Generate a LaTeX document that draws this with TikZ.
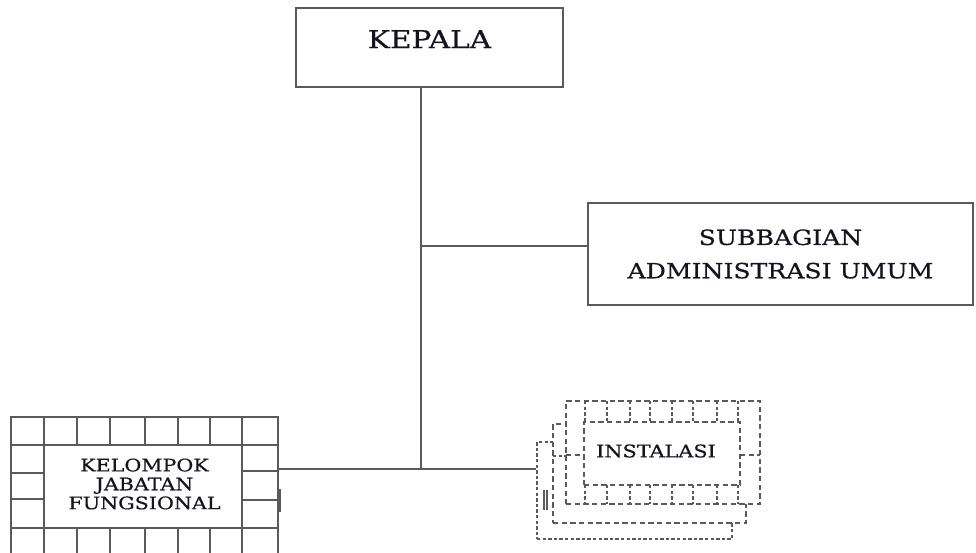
\documentclass[tikz,border=0pt]{standalone}
\usepackage{fontspec}
\setmainfont{DejaVu Serif}[FakeStretch=1.2, FakeBold=0.6]
\usetikzlibrary{positioning,calc}
\definecolor{orgline}{HTML}{5A5A5A}
\definecolor{orgink}{HTML}{141420}

\begin{document}
\begin{tikzpicture}[x=0.75pt, y=-0.75pt, text=orgink,
    unitbox/.style={draw=orgline, line width=1.1pt, fill=white, inner sep=0pt},
    link/.style={draw=orgline, line width=1.1pt},
    cell/.style={draw=orgline, line width=1pt},
    dcell/.style={draw=orgline, line width=1pt, dash pattern=on 4pt off 2.5pt},
    fcell/.style={draw=orgline, line width=1pt, dash pattern=on 2.6pt off 1.6pt}]
  \useasboundingbox (0,0) rectangle (976,553);
  \clip (0,0) rectangle (976,553);

  % pimpinan dan subbagian
  \node[unitbox, minimum width=200pt, text height=30pt, text depth=29pt, font=\fontsize{18.5}{20}\selectfont] (kepala) at (429.5,47.5) {KEPALA};
  \node[unitbox, minimum width=288.75pt, minimum height=76.5pt, align=center, font=\fontsize{15.7}{25}\selectfont] (sub) at (780.5,254) {SUBBAGIAN\\ADMINISTRASI UMUM};

  \coordinate (j1) at (421,246);
  \coordinate (j2) at (421,469);

  % kelompok jabatan fungsional (kotak berpetak)
  \node[unitbox, minimum width=200.25pt, minimum height=104.25pt] (kjfout) at (144.5,486.5) {};
  \node[unitbox, minimum width=148.5pt, minimum height=62.25pt] (kjf) at (143,486.5) {};
  \node[align=center, font=\fontsize{12.9}{14.2}\selectfont] (kjftext) at (144.5,484) {KELOMPOK\\JABATAN\\FUNGSIONAL};
  \foreach \x in {44,77,110,145,178,210,242} {
    \draw[cell] (\x,417) -- (\x,445);
    \draw[cell] (\x,528) -- (\x,556);
  }
  \draw[cell] (11,445) -- (278,445);
  \draw[cell] (11,528) -- (278,528);
  \draw[cell] (11,473) -- (44,473) (11,499) -- (44,499);
  \draw[cell] (242,471) -- (278,471) (242,500) -- (278,500);
  \draw[draw=orgline, line width=1.8pt] (280,489) -- (280,512);

  % instalasi (tiga kotak bertumpuk)
  \node[unitbox, fcell, fill=white, minimum width=146.25pt, minimum height=72.75pt] (inst3) at (634.5,490.5) {};
  \node[unitbox, dcell, fill=white, minimum width=144.75pt, minimum height=74.25pt] (inst2) at (649.5,473.5) {};
  \draw[fcell] (553,456) -- (566,456);
  \draw[cell, line width=0.9pt] (544,490) -- (544,510) (547,490) -- (547,510);
  \node[unitbox, dcell, fill=white, minimum width=145.5pt, minimum height=77.25pt] (inst1) at (663,452.5) {};
  \node[unitbox, dcell, fill=white, minimum width=117pt, minimum height=47.25pt] (inst) at (662,453.5) {};
  \node[font=\fontsize{13}{14}\selectfont] (insttext) at (656,451) {INSTALASI};
  \foreach \x in {585,607,630,650,672,693,717,738} {
    \draw[fcell] (\x,401) -- (\x,422);
    \draw[fcell] (\x,485) -- (\x,504);
  }
  \draw[dcell] (566,455) -- (584,455) (740,455) -- (760,455);

  % garis hubung
  \draw[link] (j1 |- kepala.south) -- (j2);
  \draw[link] (j1) -- (j1 -| sub.west);
  \draw[link] (j2 -| kjfout.east) -- (j2 -| inst3.west);
\end{tikzpicture}
\end{document}
